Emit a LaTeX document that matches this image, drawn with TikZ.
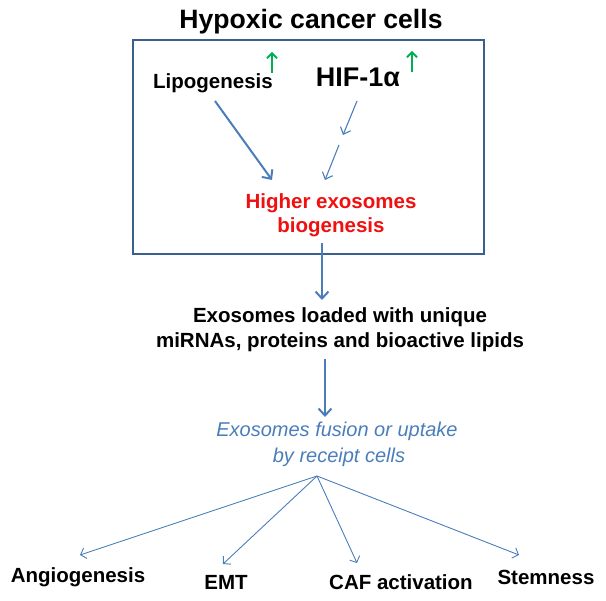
\documentclass[tikz,border=0pt]{standalone}
\usepackage{fontspec}
\setmainfont{Liberation Sans}
\usetikzlibrary{arrows.meta}
\definecolor{boxblue}{HTML}{3A5F8F}
\definecolor{arrblue}{HTML}{4A7EBB}
\definecolor{txtred}{HTML}{F01010}
\definecolor{upgreen}{HTML}{00B050}
\tikzset{
  lbl/.style={inner sep=0pt, anchor=base, font=\bfseries\fontsize{20.5}{24}\selectfont, align=center},
  bigarr/.style={draw=arrblue, line width=2pt, -{Straight Barb[length=7pt,width=13pt,line width=2pt]}},
  thinarr/.style={draw=arrblue, line width=1.1pt, -{Straight Barb[length=6pt,width=11pt,line width=1.1pt]}},
  fanarr/.style={draw=arrblue, line width=0.9pt, -{Straight Barb[length=5pt,width=11pt,line width=0.9pt]}},
  uparr/.style={draw=upgreen, line width=1.8pt, -{Straight Barb[length=5pt,width=10pt,line width=1.8pt]}},
}
\begin{document}
\begin{tikzpicture}[x=1pt,y=-1pt]
\useasboundingbox (0,0) rectangle (606,601);
% title
\node[lbl, font=\bfseries\fontsize{26.6}{30}\selectfont] (title) at (311,29) {Hypoxic cancer cells};
% box
\draw[boxblue, line width=2.6pt] (133,40) rectangle (484,254);
\node[lbl] (lipo) at (213,89) {Lipogenesis};
\node[lbl, font=\bfseries\fontsize{27}{30}\selectfont] (hif) at (358,87) {HIF-1α};
\coordinate (lu1) at (272,73); \coordinate (lu2) at (272,52);
\draw[uparr] (lu1) -- (lu2);
\coordinate (hu1) at (412,72); \coordinate (hu2) at (412,51);
\draw[uparr] (hu1) -- (hu2);
% lipogenesis arrow
\coordinate (la1) at (215,101); \coordinate (la2) at (272,180);
\draw[bigarr] (la1) -- (la2);
% HIF arrows (broken)
\coordinate (ha1) at (357,101); \coordinate (ha2) at (343,135);
\coordinate (ha3) at (339,145); \coordinate (ha4) at (325,180);
\draw[thinarr] (ha1) -- (ha2);
\draw[thinarr] (ha3) -- (ha4);
\node[lbl, text=txtred] (higher) at (331,209) {Higher exosomes};
\node[lbl, text=txtred] (bio) at (331,233) {biogenesis};
% box to exosomes
\coordinate (b1) at (322,243); \coordinate (b2) at (322,300);
\draw[bigarr] (b1) -- (b2);
\node[lbl] (exo1) at (340,323) {Exosomes loaded with unique};
\node[lbl] (exo2) at (340,348) {miRNAs, proteins and bioactive lipids};
\coordinate (c1) at (325,359); \coordinate (c2) at (325,417);
\draw[bigarr] (c1) -- (c2);
\node[lbl, font=\itshape\fontsize{20}{24}\selectfont, text=arrblue] (fus1) at (337,437) {Exosomes fusion or uptake};
\node[lbl, font=\itshape\fontsize{20}{24}\selectfont, text=arrblue] (fus2) at (339,463) {by receipt cells};
% fan
\coordinate (o) at (317,476);
\coordinate (ta) at (80,555);
\coordinate (te) at (223,564);
\coordinate (tc) at (357,563);
\coordinate (ts) at (519,555);
\draw[fanarr] (o) -- (ta);
\draw[fanarr] (o) -- (te);
\draw[fanarr] (o) -- (tc);
\draw[fanarr] (o) -- (ts);
\node[lbl] (ang) at (78,583) {Angiogenesis};
\node[lbl] (emt) at (226,590) {EMT};
\node[lbl] (caf) at (401,590) {CAF activation};
\node[lbl] (stem) at (546,585) {Stemness};
\end{tikzpicture}
\end{document}
